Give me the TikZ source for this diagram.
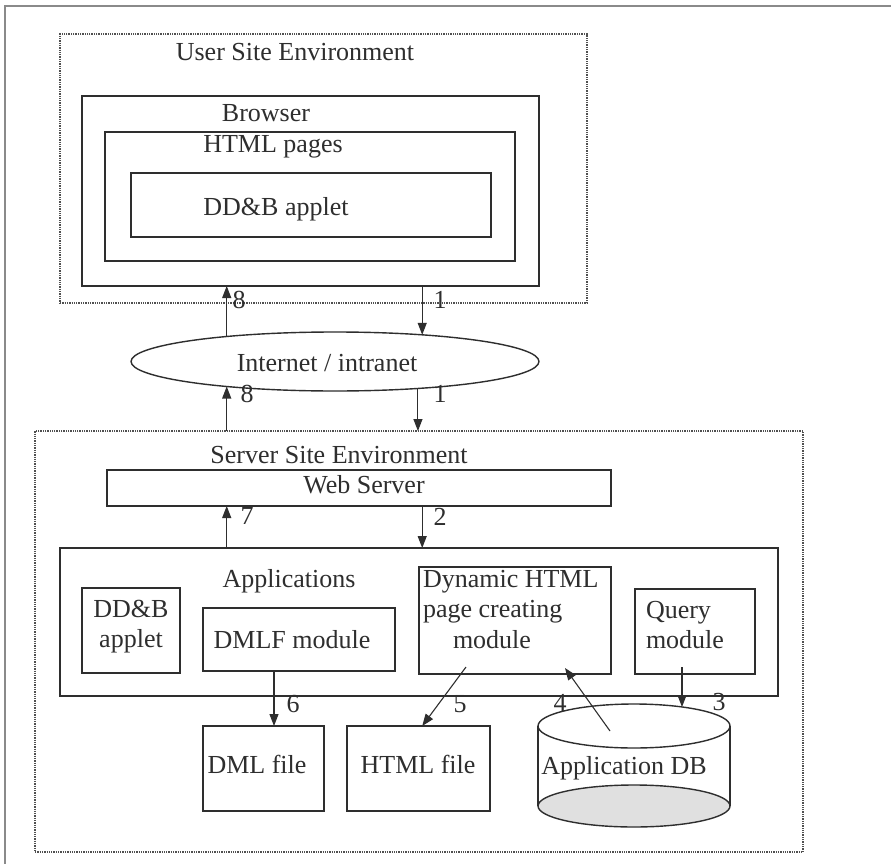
\documentclass[tikz,border=0pt]{standalone}
\usepackage{fontspec}
\setmainfont{Liberation Serif}
\usetikzlibrary{arrows.meta,calc,shapes.geometric}
\definecolor{ink}{HTML}{2E2E2E}
\definecolor{dotc}{HTML}{505050}
\definecolor{framec}{HTML}{8A8A8A}
\definecolor{dbfill}{HTML}{E0E0E0}
\newcommand{\stackl}[1]{\begin{tabular}[t]{@{}l@{}}#1\end{tabular}}
\newcommand{\stackc}[1]{\begin{tabular}[t]{@{}c@{}}#1\end{tabular}}
\begin{document}
\begin{tikzpicture}[x=1pt,y=-1pt,
  font=\fontsize{26}{30.5}\selectfont,
  box/.style={draw=ink, line width=1.4pt, inner sep=0pt, outer sep=0pt},
  env/.style={draw=dotc, densely dotted, line width=1.3pt, inner sep=0pt, outer sep=0pt},
  txt/.style={inner sep=0pt, outer sep=0pt, text=ink},
  num/.style={txt, anchor=base},
  arr/.style={draw=ink, line width=1.1pt, -{Triangle[length=12pt,width=9pt]}}]
\useasboundingbox (0,0) rectangle (891,864);
\fill[white] (0,0) rectangle (891,864);
% page frame (top and left edges)
\draw[framec, line width=1.5pt] (5,864) -- (5,6) -- (891,6);

% ---- user site ----
\node[env, minimum width=527, minimum height=269] (userenv) at (323.5,168.5) {};
\node[txt, anchor=base] (usertitle) at (295,61) {User Site Environment};
\node[box, minimum width=457, minimum height=190] (browser) at (310.5,191) {};
\node[txt, anchor=base] (browsertitle) at (266,122) {Browser};
\node[box, minimum width=410, minimum height=129] (htmlpages) at (310,196.5) {};
\node[txt, anchor=base] (pagestitle) at (273,153) {HTML pages};
\node[box, minimum width=360, minimum height=64] (appletbox) at (311,205) {};
\node[txt, anchor=base] (applettitle) at (276,215) {DD\&B applet};

% ---- network ----
\node[draw=ink, line width=1.4pt, ellipse, fill=white, inner sep=0pt, outer sep=0pt,
      minimum width=408, minimum height=59] (inet) at (335,361.5) {};
\node[txt, anchor=base] (inettext) at (327,371) {Internet / intranet};
\coordinate (colA) at (inet.167);
\coordinate (colB) at (inet.17.74);

% ---- server site ----
\node[env, minimum width=768, minimum height=421] (serverenv) at (419,641.5) {};
\node[txt, anchor=base] (servertitle) at (339,463) {Server Site Environment};
\node[box, minimum width=504, minimum height=36] (webserver) at (359,488) {};
\node[txt, anchor=base] (webtext) at (364,493) {Web Server};
\node[box, minimum width=718, minimum height=148] (apps) at (419,622) {};
\node[txt, anchor=base] (appstitle) at (289,587) {Applications};
\node[box, minimum width=98, minimum height=85] (ddb) at (131,630.5) {};
\node[txt, anchor=base] (ddbtext) at (131,617) {\stackc{DD\&B\\applet}};
\node[box, minimum width=192, minimum height=63] (dmlf) at (299,639.5) {};
\node[txt, anchor=base] (dmlftext) at (292,648) {DMLF module};
\node[box, minimum width=192, minimum height=107] (dyn) at (515,620.5) {};
\node[txt, anchor=base west] (dyntext) at (423,587) {\stackl{Dynamic HTML\\page creating\\\hspace*{30pt}module}};
\node[box, minimum width=120, minimum height=85] (query) at (695,631.5) {};
\node[txt, anchor=base west] (querytext) at (646,618) {\stackl{Query\\module}};
\node[box, minimum width=121, minimum height=85] (dmlfile) at (263.5,768.5) {};
\node[txt, anchor=base] (dmlfiletext) at (257,773) {DML file};
\node[box, minimum width=143, minimum height=85] (htmlfile) at (418.5,768.5) {};
\node[txt, anchor=base] (htmlfiletext) at (418,773) {HTML file};

% application database cylinder
\fill[dbfill] (634,806) ellipse [x radius=96, y radius=21];
\draw[ink, line width=1.4pt] (634,806) ellipse [x radius=96, y radius=21];
\draw[ink, line width=1.4pt] (538,726) -- (538,806) (730,726) -- (730,806);
\fill[white] (634,726) ellipse [x radius=96, y radius=22];
\draw[ink, line width=1.4pt] (634,726) ellipse [x radius=96, y radius=22];
\node[txt, anchor=base] (db) at (624,774) {Application DB};
\coordinate (dbtop) at (682,707);
\coordinate (dbinner) at (610,731);

% ---- flows ----
\draw[arr] (colA) -- (colA |- browser.south);
\draw[arr] (browser.south -| colB) -- (colB);
\draw[arr] (serverenv.north -| colA) -- (inet.193);
\draw[arr] (inet.342.26) -- (inet.342.26 |- serverenv.north);
\draw[arr] (apps.north -| colA) -- (webserver.south -| colA);
\draw[arr] (webserver.south -| colB) -- (apps.north -| colB);
\coordinate (col6) at (274,0);
\draw[arr] (dmlf.south -| col6) -- (dmlfile.north -| col6);
\draw[arr] ($(dyn.south west)+(47,-7)$) -- (htmlfile.north -| colB);
\draw[arr] (dbinner) -- ($(dyn.south west)+(146,-6)$);
\draw[arr] ($(query.south west)+(47,-7)$) -- (dbtop);

% step numbers
\node[num] (n8a) at (239,308) {8};
\node[num] (n1a) at (440,308) {1};
\node[num] (n8b) at (247,402) {8};
\node[num] (n1b) at (440,402) {1};
\node[num] (n7) at (247,524) {7};
\node[num] (n2) at (440,525) {2};
\node[num] (n6) at (293,712) {6};
\node[num] (n5) at (460,712) {5};
\node[num] (n4) at (560,711) {4};
\node[num] (n3) at (719,710) {3};
\end{tikzpicture}
\end{document}
